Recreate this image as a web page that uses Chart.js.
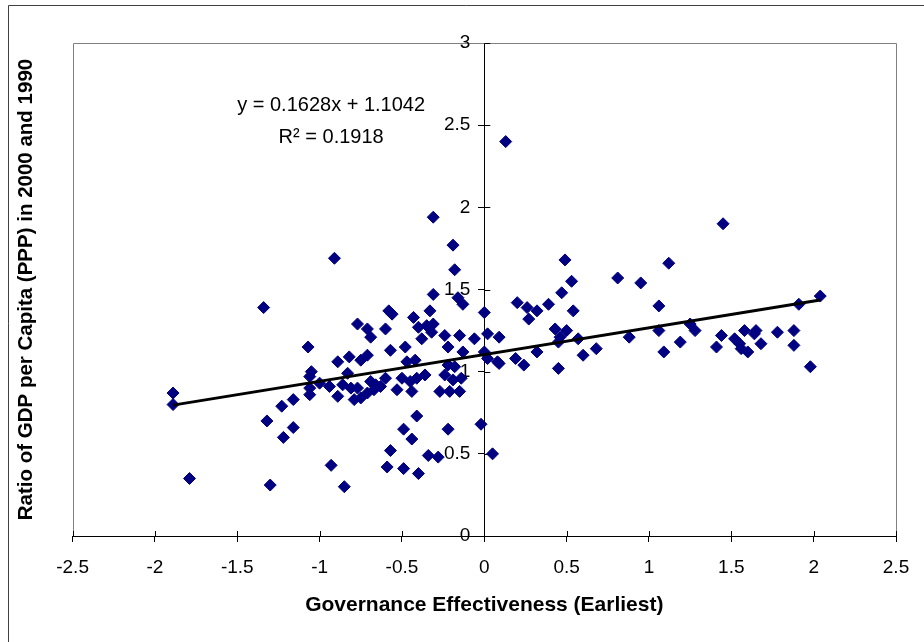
<!DOCTYPE html>
<html lang="en">
<head>
<meta charset="UTF-8">
<title>Governance Effectiveness vs GDP ratio</title>
<script src="https://cdn.jsdelivr.net/npm/chart.js"></script>
<style>
  body { margin: 0; background: #fff; }
  #wrap { width: 924px; height: 642px; }
</style>
</head>
<body>
<div id="wrap"><canvas id="grafico" width="924" height="642"></canvas></div>
<script>
// values
const govEffect = [
  -1.89, -1.89, -1.79, -1.34, -1.32, -1.30, -1.23, -1.16, -1.16, -1.22,
  -1.07, -1.05, -1.06, -1.06, -1.06, -1.00, -0.94, -0.93, -0.91, -0.89,
  -0.89, -0.86, -0.85, -0.82, -0.83, -0.81, -0.79, -0.77, -0.77, -0.75,
  -0.71, -0.71, -0.69, -0.69, -0.66, -0.63, -0.71, -0.67, -0.60, -0.60,
  -0.58, -0.56, -0.57, -0.59, -0.57, -0.53, -0.50, -0.49, -0.49, -0.48,
  -0.47, -0.45, -0.44, -0.44, -0.43, -0.42, -0.41, -0.41, -0.40, -0.40,
  -0.38, -0.36, -0.35, -0.34, -0.33, -0.32, -0.31, -0.31, -0.31, -0.28,
  -0.27, -0.24, -0.24, -0.22, -0.22, -0.22, -0.21, -0.19, -0.19, -0.18,
  -0.18, -0.16, -0.15, -0.15, -0.14, -0.13, -0.13, -0.06, -0.02, 0.00,
  0.02, 0.02, 0.05, 0.08, 0.09, 0.09, 0.13, 0.20, 0.19, 0.24,
  0.26, 0.27, 0.32, 0.32, 0.39, 0.43, 0.45, 0.45, 0.47, 0.49,
  0.50, 0.46, 0.53, 0.54, 0.57, 0.60, 0.68, 0.81, 0.88, 0.95,
  1.06, 1.06, 1.09, 1.12, 1.19, 1.25, 1.28, 1.41, 1.44, 1.45,
  1.52, 1.55, 1.56, 1.60, 1.58, 1.65, 1.64, 1.68, 1.78, 1.88,
  1.88, 1.91, 1.98, 2.04, -0.75, 0.00
];
const gdpRatio = [
  0.87, 0.80, 0.35, 1.39, 0.70, 0.31, 0.79, 0.83, 0.66, 0.60,
  1.15, 1.00, 0.97, 0.90, 0.86, 0.93, 0.91, 0.43, 1.69, 1.06,
  0.85, 0.92, 0.30, 1.09, 0.99, 0.90, 0.83, 1.29, 0.90, 1.07,
  1.26, 1.10, 1.21, 0.94, 0.92, 0.91, 0.87, 0.89, 0.96, 1.26,
  1.37, 1.35, 1.13, 0.42, 0.52, 0.89, 0.96, 0.41, 0.65, 1.15,
  1.06, 0.94, 0.88, 0.59, 1.33, 1.07, 0.96, 0.73, 1.27, 0.38,
  1.20, 0.98, 1.28, 0.49, 1.37, 1.24, 1.47, 1.29, 1.94, 0.48,
  0.88, 1.22, 0.98, 1.15, 1.04, 0.65, 0.88, 1.77, 0.95, 1.62,
  1.03, 1.45, 1.22, 0.88, 0.96, 1.41, 1.12, 1.20, 0.68, 1.36,
  1.08, 1.23, 0.50, 1.06, 1.21, 1.05, 2.40, 1.42, 1.08, 1.04,
  1.39, 1.32, 1.37, 1.12, 1.41, 1.26, 1.18, 1.02, 1.48, 1.68,
  1.25, 1.21, 1.55, 1.37, 1.20, 1.10, 1.14, 1.57, 1.21, 1.54,
  1.25, 1.40, 1.12, 1.66, 1.18, 1.29, 1.25, 1.15, 1.22, 1.90,
  1.20, 1.17, 1.14, 1.12, 1.25, 1.25, 1.23, 1.17, 1.24, 1.25,
  1.16, 1.41, 1.03, 1.46, 0.84, 1.12
];
const xTickValues = [-2.5, -2, -1.5, -1, -0.5, 0, 0.5, 1, 1.5, 2, 2.5];
const yTickValues = [0, 0.5, 1, 1.5, 2, 2.5, 3];
const trendSlope = 0.1628;
const trendIntercept = 1.1042;
const rSquared = 0.1918;

const fonte = "Arial, 'Liberation Sans', sans-serif";
Chart.defaults.font.family = fonte;
Chart.defaults.color = '#000';

const pontos = govEffect.map((x, i) => ({ x: x, y: gdpRatio[i] }));
const xMin = Math.min(...govEffect);
const xMax = Math.max(...govEffect);
const tendencia = [
  { x: xMin, y: trendSlope * xMin + trendIntercept },
  { x: xMax, y: trendSlope * xMax + trendIntercept }
];

// plot frame, outer frame, crossing tick marks, y labels beside the x=0 axis, equation
const moldura = {
  id: 'moldura',
  beforeDatasetsDraw(chart) {
    const { ctx, chartArea: a, scales } = chart;
    ctx.save();
    ctx.lineWidth = 1;
    ctx.strokeStyle = '#808080';
    ctx.beginPath();
    ctx.moveTo(Math.round(a.left) + 0.5, Math.round(a.bottom));
    ctx.lineTo(Math.round(a.left) + 0.5, Math.round(a.top) + 0.5);
    ctx.lineTo(Math.round(a.right) + 0.5, Math.round(a.top) + 0.5);
    ctx.lineTo(Math.round(a.right) + 0.5, Math.round(a.bottom));
    ctx.stroke();

    ctx.strokeStyle = '#404040';
    ctx.beginPath();
    ctx.moveTo(8.5, chart.height);
    ctx.lineTo(8.5, 5.5);
    ctx.lineTo(chart.width, 5.5);
    ctx.stroke();

    ctx.strokeStyle = '#000';
    ctx.beginPath();
    scales.x.ticks.forEach(t => {
      const px = Math.round(scales.x.getPixelForValue(t.value)) + 0.5;
      ctx.moveTo(px, a.bottom);
      ctx.lineTo(px, a.bottom - 5);
    });
    const x0 = scales.x.getPixelForValue(0);
    scales.y.ticks.forEach(t => {
      const py = Math.round(scales.y.getPixelForValue(t.value)) + 0.5;
      ctx.moveTo(x0, py);
      ctx.lineTo(x0 + 6, py);
    });
    ctx.stroke();

    ctx.fillStyle = '#000';
    ctx.font = '19px ' + fonte;
    ctx.textAlign = 'right';
    ctx.textBaseline = 'middle';
    scales.y.ticks.forEach(t => {
      ctx.fillText(String(t.value), x0 - 14, scales.y.getPixelForValue(t.value));
    });
    ctx.restore();
  },
  afterDraw(chart) {
    const { ctx, scales } = chart;
    const ex = scales.x.getPixelForValue(-0.93);
    ctx.save();
    ctx.fillStyle = '#000';
    ctx.font = '20px ' + fonte;
    ctx.textAlign = 'center';
    ctx.textBaseline = 'middle';
    ctx.fillText('y = ' + trendSlope + 'x + ' + trendIntercept, ex, scales.y.getPixelForValue(2.62));
    ctx.fillText('R\u00B2 = ' + rSquared, ex, scales.y.getPixelForValue(2.425));
    ctx.restore();
  }
};

new Chart(document.getElementById('grafico'), {
  data: {
    datasets: [
      {
        type: 'line',
        label: 'Linear',
        data: tendencia,
        borderColor: '#000',
        borderWidth: 3,
        pointRadius: 0,
        fill: false,
        order: 0,
        yAxisID: 'y'
      },
      {
        type: 'scatter',
        label: 'Countries',
        data: pontos,
        pointStyle: 'rectRot',
        pointRadius: 6,
        pointBorderWidth: 1,
        backgroundColor: '#000080',
        borderColor: '#000080',
        order: 1,
        yAxisID: 'y'
      }
    ]
  },
  options: {
    responsive: false,
    animation: false,
    devicePixelRatio: 1,
    layout: { padding: { left: 8, top: 43, right: 28, bottom: 20 } },
    plugins: {
      legend: { display: false },
      tooltip: { enabled: false }
    },
    scales: {
      x: {
        type: 'linear',
        position: 'bottom',
        min: -2.5,
        max: 2.5,
        afterBuildTicks: axis => { axis.ticks = xTickValues.map(v => ({ value: v })); },
        ticks: { callback: v => String(v), font: { size: 19 }, padding: 14, maxRotation: 0 },
        grid: { drawOnChartArea: false, tickLength: 6, color: '#000' },
        border: { color: '#000', width: 1 },
        title: {
          display: true,
          text: 'Governance Effectiveness (Earliest)',
          font: { size: 21, weight: 'bold' },
          padding: { top: 0, bottom: 4 }
        }
      },
      y: {
        type: 'linear',
        position: { x: 0 },
        min: 0,
        max: 3,
        afterBuildTicks: axis => { axis.ticks = yTickValues.map(v => ({ value: v })); },
        ticks: { display: false },
        grid: { drawOnChartArea: false, tickLength: 6, color: '#000' },
        border: { color: '#000', width: 1 }
      },
      yTitulo: {
        type: 'linear',
        position: 'left',
        min: 0,
        max: 3,
        ticks: { display: false },
        grid: { display: false, drawTicks: false },
        border: { display: false },
        title: {
          display: true,
          text: 'Ratio of GDP per Capita (PPP) in 2000 and 1990',
          font: { size: 20.5, weight: 'bold' },
          padding: { top: 6, bottom: 34 }
        }
      }
    }
  },
  plugins: [moldura]
});
</script>
</body>
</html>
